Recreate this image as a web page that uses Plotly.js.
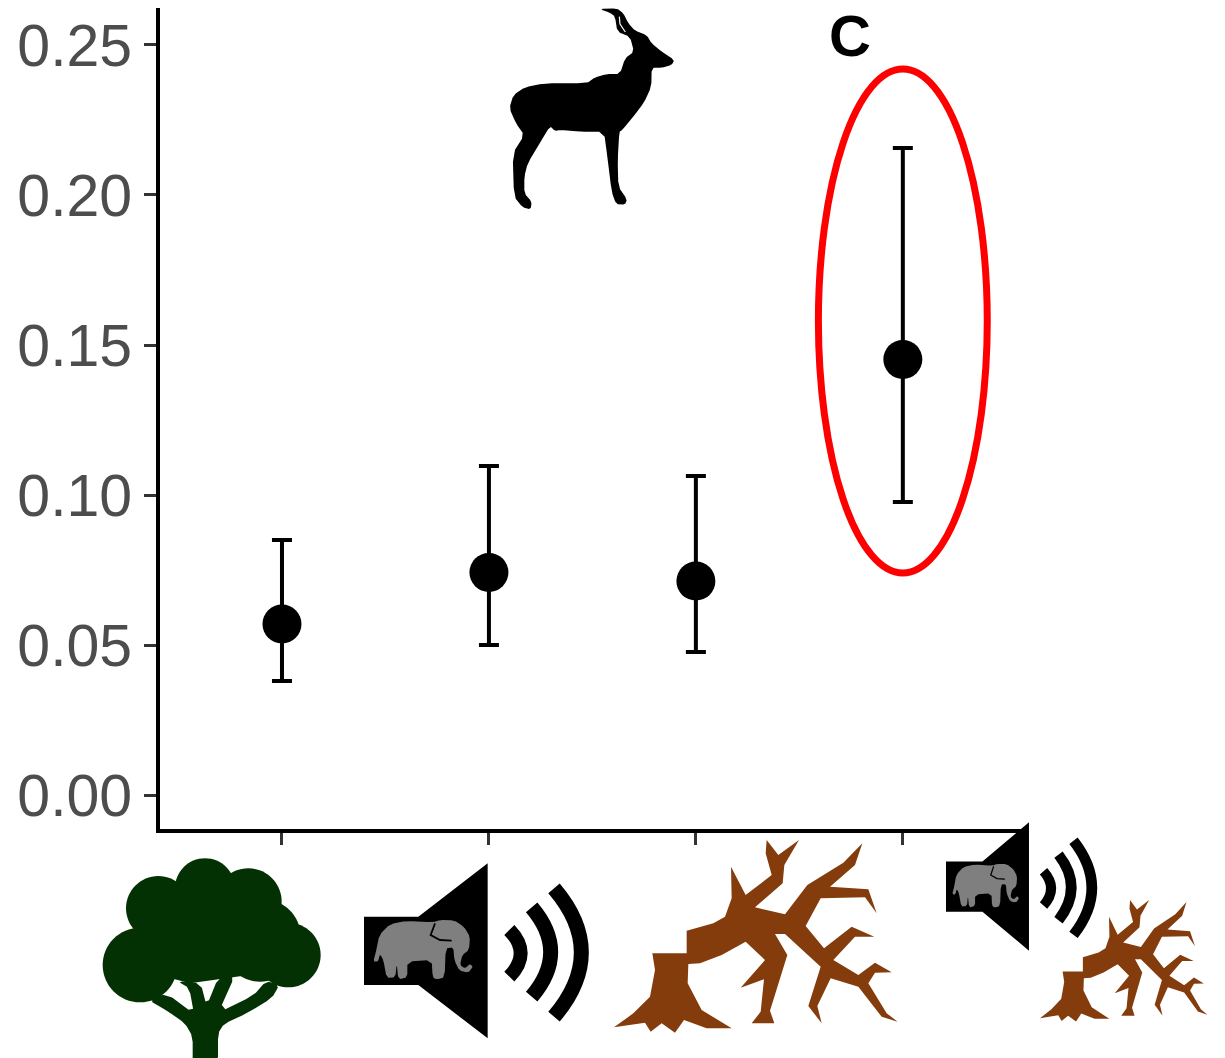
<!DOCTYPE html>
<html>
<head>
<meta charset="utf-8">
<script src="https://cdn.plot.ly/plotly-3.0.1.min.js"></script>
<style>html,body{margin:0;padding:0;background:#fff}#chart{width:1225px;height:1058px}</style>
</head>
<body>
<div id="chart"></div>
<script>
// ---- data ----
var categories = ['Control', 'Elephant playback', 'Tree damage', 'Playback + tree damage'];
var means  = [0.057, 0.0742, 0.0713, 0.1452];
var upper  = [0.085, 0.1097, 0.1063, 0.2157];
var lower  = [0.038, 0.0500, 0.0477, 0.0977];
var yTicks = [0, 0.05, 0.10, 0.15, 0.20, 0.25];

// ---- page geometry ----
var W = 1225, H = 1058, L = 160, R = 1027, T = 8, B = 829;
function toPaper(px, py) { return [(px - L) / (R - L), (B - py) / (B - T)]; }

// A drawing transform: local (zoomed) coordinates -> page pixels.
function zoomTf(ox, oy) { return function (x, y) { return [x / 3 + ox, y / 3 + oy]; }; }
function chain(f, sx, sy, fromX, fromY, toX, toY) {
  return function (x, y) { var p = f(x, y); return [toX + sx * (p[0] - fromX), toY + sy * (p[1] - fromY)]; };
}
// Corner-cutting so that silhouettes read as organic shapes rather than polygons.
function smooth(pts) {
  var out = [];
  pts.forEach(function (p, i) {
    var q = pts[(i + 1) % pts.length];
    out.push([0.8 * p[0] + 0.2 * q[0], 0.8 * p[1] + 0.2 * q[1]]);
    out.push([0.2 * p[0] + 0.8 * q[0], 0.2 * p[1] + 0.8 * q[1]]);
  });
  return out;
}
function poly(pts, tf) {
  return pts.map(function (p, i) {
    var q = tf(p[0], p[1]), r = toPaper(q[0], q[1]);
    return (i ? 'L' : 'M') + r[0].toFixed(5) + ',' + r[1].toFixed(5);
  }).join(' ') + ' Z';
}
function openLine(pts, tf) {
  return pts.map(function (p, i) {
    var q = tf(p[0], p[1]), r = toPaper(q[0], q[1]);
    return (i ? 'L' : 'M') + r[0].toFixed(5) + ',' + r[1].toFixed(5);
  }).join(' ');
}
function quad(p0, c, p2, tf) {
  function s(p) { var q = tf(p[0], p[1]), r = toPaper(q[0], q[1]); return r[0].toFixed(5) + ',' + r[1].toFixed(5); }
  return 'M' + s(p0) + ' Q' + s(c) + ' ' + s(p2);
}
function disc(cx, cy, r, tf) {
  var k = 0.5523 * r;
  function s(x, y) { var q = tf(x, y), p = toPaper(q[0], q[1]); return p[0].toFixed(5) + ',' + p[1].toFixed(5); }
  return 'M' + s(cx + r, cy) +
    ' C' + s(cx + r, cy + k) + ' ' + s(cx + k, cy + r) + ' ' + s(cx, cy + r) +
    ' C' + s(cx - k, cy + r) + ' ' + s(cx - r, cy + k) + ' ' + s(cx - r, cy) +
    ' C' + s(cx - r, cy - k) + ' ' + s(cx - k, cy - r) + ' ' + s(cx, cy - r) +
    ' C' + s(cx + k, cy - r) + ' ' + s(cx + r, cy - k) + ' ' + s(cx + r, cy) + ' Z';
}
function fillShape(path, color) {
  return {type: 'path', xref: 'paper', yref: 'paper', path: path, fillcolor: color, line: {width: 0}, layer: 'above'};
}
function strokeShape(path, color, width) {
  return {type: 'path', xref: 'paper', yref: 'paper', path: path, line: {color: color, width: width}, fillcolor: 'rgba(0,0,0,0)', layer: 'above'};
}

var shapes = [];

// ---- antelope ----
var antelope = [[358,27],[410,25],[430,40],[445,70],[465,92],[500,105],[515,130],[545,155],[583,180],[575,195],[545,203],[515,203],[514,260],[492,308],[458,352],[425,392],[418,395],[413,480],[415,560],[441,598],[435,614],[408,612],[395,575],[382,470],[372,395],[300,395],[240,390],[225,393],[210,378],[182,425],[143,490],[133,530],[133,580],[155,605],[152,628],[128,622],[102,590],[98,460],[133,405],[108,370],[88,325],[100,285],[135,262],[190,250],[320,250],[345,232],[380,222],[420,222],[435,175],[462,155],[450,110],[412,95],[405,50],[390,38]];
var tfA = zoomTf(480, 0);
shapes.push(fillShape(poly(smooth(antelope), tfA), '#000000'));
shapes.push(strokeShape(openLine([[418,50],[420,72],[436,96]], tfA), '#ffffff', 1.2));

// ---- tree ----
var tfT = zoomTf(90, 820), green = '#033103';
[[345,205,90],[205,265,97],[475,245,100],[150,435,112],[595,405,97],[510,375,110],[520,350,112]].forEach(function (c) {
  shapes.push(fillShape(disc(c[0], c[1], c[2], tfT), green));
});
shapes.push(fillShape(poly([[200,250],[550,250],[580,450],[300,490],[150,450]], tfT), green));
shapes.push(fillShape(poly(smooth([[308,730],[308,650],[285,610],[235,575],[175,540],[230,520],[312,582],[298,505],[262,483],[332,490],[350,558],[385,472],[437,462],[385,578],[490,527],[528,483],[568,495],[545,535],[470,580],[402,612],[384,640],[384,730]]), tfT), green));

// ---- speaker with elephant ----
function speaker(tf, k) {
  shapes.push(fillShape(poly([[822,290],[985,290],[1193,130],[1193,655],[985,495],[822,495]], tf), '#000000'));
  shapes.push(fillShape(poly(smooth([[858,395],[868,345],[900,312],[950,303],[1030,307],[1050,300],[1092,301],[1122,320],[1140,350],[1137,390],[1117,405],[1110,435],[1125,445],[1140,432],[1149,440],[1135,458],[1108,452],[1093,420],[1090,382],[1067,385],[1064,472],[1040,478],[1028,472],[1025,420],[952,425],[952,472],[925,478],[920,430],[916,472],[890,474],[880,420],[870,402],[864,425],[850,424]]), tf), '#7f7f7f'));
  shapes.push(strokeShape(openLine([[1035,310],[1022,345],[1050,360],[1085,362]], tf), '#000000', 1.8 * k));
  shapes.push(strokeShape(quad([1258,330],[1326,400],[1258,470], tf), '#000000', 14 * k));
  shapes.push(strokeShape(quad([1325,262],[1439,396],[1325,530], tf), '#000000', 15 * k));
  shapes.push(strokeShape(quad([1392,205],[1556,397],[1392,590], tf), '#000000', 15 * k));
}
speaker(tfT, 1);
speaker(chain(tfT, 0.671, 0.734, 364, 863.3, 946, 822.3), 0.7);

// ---- felled tree ----
var brown = '#843c0c';
var felled = [[42,622],[100,580],[150,530],[165,450],[157,400],[260,400],[260,332],[340,310],[375,290],[395,235],[393,140],[437,225],[515,165],[497,100],[500,60],[535,105],[597,60],[553,135],[548,190],[465,262],[555,283],[622,195],[730,128],[787,70],[765,135],[690,200],[805,208],[830,280],[795,232],[662,235],[617,318],[672,385],[755,320],[823,350],[765,350],[700,420],[775,465],[825,428],[875,457],[825,458],[805,490],[860,580],[893,605],[845,590],[775,500],[692,475],[652,558],[665,610],[625,558],[662,440],[555,342],[525,342],[562,405],[510,572],[523,610],[455,610],[482,575],[492,478],[422,503],[495,420],[437,365],[365,405],[300,430],[265,432],[263,490],[305,570],[395,625],[320,625],[252,600],[225,638],[185,610],[152,635],[135,608]];
var tfF = zoomTf(600, 820);
shapes.push(fillShape(poly(felled, tfF), brown));
shapes.push(fillShape(poly(felled, chain(tfF, 0.59, 0.631, 614, 840, 1040, 900)), brown));

// ---- red ellipse around the fourth category ----
shapes.push({type: 'circle', xref: 'x', yref: 'y', x0: 2.592, x1: 3.408, y0: 0.0740, y1: 0.2420,
  line: {color: '#ff0000', width: 7}, fillcolor: 'rgba(0,0,0,0)', layer: 'above'});

var trace = {
  type: 'scatter', mode: 'markers', x: categories, y: means,
  marker: {color: '#000000', size: 39},
  error_y: {
    type: 'data', symmetric: false,
    array: upper.map(function (u, i) { return u - means[i]; }),
    arrayminus: lower.map(function (l, i) { return means[i] - l; }),
    color: '#000000', thickness: 4, width: 10
  },
  hoverinfo: 'skip', showlegend: false, cliponaxis: false
};

var layout = {
  width: W, height: H, showlegend: false,
  paper_bgcolor: '#ffffff', plot_bgcolor: '#ffffff',
  margin: {l: L, r: W - R, t: T, b: H - B, pad: 0},
  font: {family: '"Liberation Sans", Arial, sans-serif'},
  xaxis: {
    type: 'category', categoryorder: 'array', categoryarray: categories, range: [-0.5894, 3.6],
    showgrid: false, zeroline: false, showline: true, linecolor: '#000000', linewidth: 4,
    ticks: 'outside', ticklen: 12, tickwidth: 3, tickcolor: '#333333', showticklabels: false
  },
  yaxis: {
    range: [-0.01133, 0.26233], tickvals: yTicks, tickformat: '.2f',
    showgrid: false, zeroline: false, showline: true, linecolor: '#000000', linewidth: 4,
    ticks: 'outside', ticklen: 12, tickwidth: 3, tickcolor: '#333333',
    tickfont: {family: '"Liberation Sans", Arial, sans-serif', size: 59, color: '#4d4d4d'}
  },
  shapes: shapes,
  annotations: [{
    text: '<b>C</b>', xref: 'paper', yref: 'paper', showarrow: false,
    x: (850 - L) / (R - L), y: (B - 35) / (B - T), xanchor: 'center', yanchor: 'middle',
    font: {family: '"Liberation Sans", Arial, sans-serif', size: 58, color: '#000000'}
  }]
};

Plotly.newPlot('chart', [trace], layout, {displayModeBar: false, staticPlot: true});
</script>
</body>
</html>
